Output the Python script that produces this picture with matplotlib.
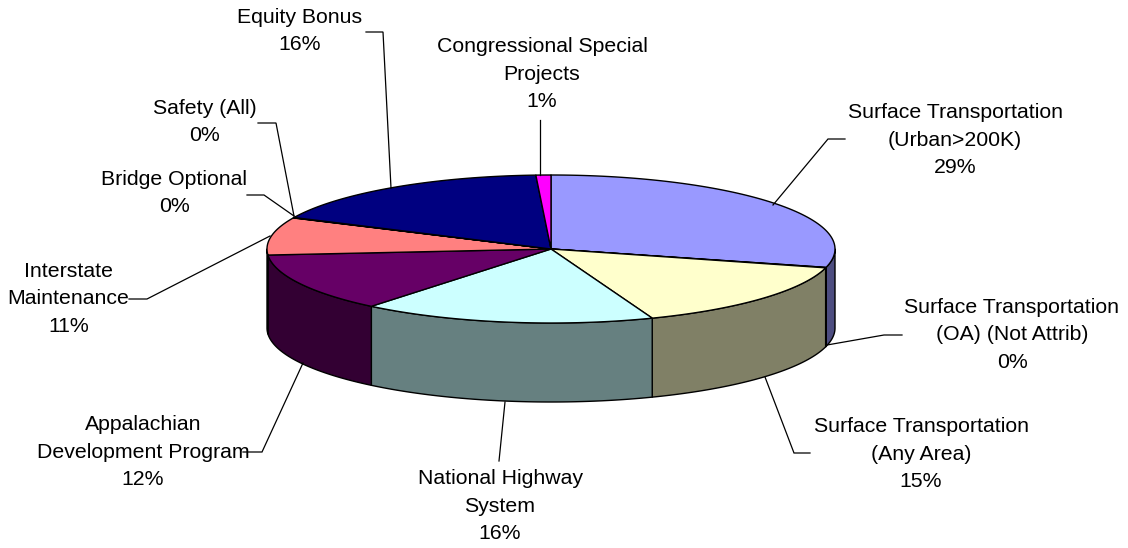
import numpy as np
import matplotlib
matplotlib.use("Agg")
import matplotlib.pyplot as plt
from matplotlib.colors import to_rgb

plt.rcParams['font.family'] = ['Liberation Sans', 'DejaVu Sans']
FONT_SIZE = 15.3

# Slice order, clockwise from 12 o'clock
labels = ["Surface Transportation\n(Urban>200K)", "Surface Transportation\n(OA) (Not Attrib)",
          "Surface Transportation\n(Any Area)", "National Highway\nSystem",
          "Appalachian\nDevelopment Program", "Interstate\nMaintenance", "Bridge Optional",
          "Safety (All)", "Equity Bonus", "Congressional Special\nProjects"]
printed_pct = [29, 0, 15, 16, 12, 11, 0, 0, 16, 1]
# Shares as drawn (measured off the tilted pie)
drawn_share = [29.0, 0.1, 15.1, 16.7, 12.8, 8.2, 0.05, 0.05, 17.15, 0.85]
colors = ["#9999FF", "#3F3F8F", "#FFFFCC", "#CCFFFF", "#660066", "#FF8080",
          "#0066CC", "#CCCCFF", "#000080", "#FF00FF"]

label_x = [955, 1012, 921, 500, 143, 68.5, 174, 205, 300, 542]
label_y = [140, 335, 454, 506, 452, 299, 193, 122, 31, 74]

leaders = [
    [(773, 205), (828, 139), (845, 139)],
    [(827, 345), (884, 335), (902, 335)],
    [(765, 377), (794, 453), (810, 453)],
    [(505, 402), (499, 461)],
    [(303, 363), (262, 452), (243, 452)],
    [(270, 236), (147, 299), (129, 299)],
    [(294, 216), (264, 195), (247, 195)],
    [(294, 216), (276, 123), (258, 123)],
    [(391, 188), (383, 32), (366, 32)],
    [(540, 175), (540, 120)],
]

CX, CY, RX, RY, DEPTH = 551, 249, 284, 74, 79


def rim(a0, a1, n=80):
    t = np.radians(np.linspace(a0, a1, n))
    return CX + RX * np.sin(t), CY - RY * np.cos(t)


fig = plt.figure(figsize=(11.28, 5.48), dpi=100)
ax = fig.add_axes([0, 0, 1, 1])
ax.set_xlim(0, 1128)
ax.set_ylim(548, 0)
ax.axis('off')

edges = np.cumsum([0] + drawn_share) * 3.6

# Walls first: only the part of the rim facing the viewer
for i, col in enumerate(colors):
    a0, a1 = max(edges[i], 90), min(edges[i + 1], 270)
    if a1 <= a0:
        continue
    x, y = rim(a0, a1)
    dark = tuple(c * 0.5 for c in to_rgb(col))
    ax.fill(np.r_[x, x[::-1]], np.r_[y, y[::-1] + DEPTH], facecolor=dark,
            edgecolor='black', lw=1, joinstyle='round')

# Top of the pie
for i, col in enumerate(colors):
    x, y = rim(edges[i], edges[i + 1])
    ax.fill(np.r_[CX, x], np.r_[CY, y], facecolor=col, edgecolor='black', lw=1,
            joinstyle='round')

for pts in leaders:
    xs, ys = zip(*pts)
    ax.plot(xs, ys, color='black', lw=0.9, solid_joinstyle='miter')

for lab, pct, x, y in zip(labels, printed_pct, label_x, label_y):
    ax.text(x, y, f"{lab}\n{pct}%", ha='center', va='center', fontsize=FONT_SIZE,
            linespacing=1.58, color='black')

plt.savefig("out.png", dpi=100)
